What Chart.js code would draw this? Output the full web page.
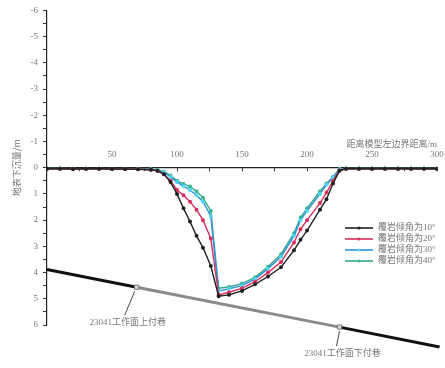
<!DOCTYPE html>
<html lang="zh">
<head>
<meta charset="UTF-8">
<title>覆岩倾角下沉曲线</title>
<script src="https://cdn.jsdelivr.net/npm/chart.js"></script>
<style>
  html, body { margin: 0; padding: 0; background: #fff; }
  #wrap { width: 445px; height: 368px; }
</style>
</head>
<body>
<div id="wrap"><canvas id="chart"></canvas></div>
<script>
// distance from the model's left edge (m)
const distances = [0, 10, 20, 30, 40, 50, 60, 70, 80, 85, 90, 95, 100, 105, 110, 115, 120, 126, 132,
  140, 150, 160, 170, 180, 190, 195, 200, 210, 215, 220, 225, 230, 240, 250, 260, 270, 280, 290, 300];

// subsidence (m) for each overburden dip angle
const dip10 = [0.04, 0.04, 0.05, 0.04, 0.04, 0.05, 0.05, 0.06, 0.08, 0.12, 0.25, 0.55, 1.0, 1.55, 2.05, 2.6, 3.05, 3.75, 4.9,
  4.85, 4.7, 4.45, 4.15, 3.8, 3.15, 2.75, 2.4, 1.6, 1.2, 0.6, 0.12, 0.04, 0.04, 0.04, 0.04, 0.04, 0.04, 0.04, 0.04];
const dip20 = [0.04, 0.04, 0.05, 0.04, 0.04, 0.05, 0.05, 0.06, 0.08, 0.12, 0.25, 0.5, 0.85, 1.05, 1.3, 1.6, 2.0, 2.7, 4.85,
  4.75, 4.6, 4.35, 4.0, 3.6, 2.85, 2.35, 2.0, 1.35, 0.95, 0.5, 0.1, 0.04, 0.04, 0.04, 0.04, 0.04, 0.04, 0.04, 0.04];
const dip30 = [0.04, 0.04, 0.04, 0.04, 0.04, 0.05, 0.05, 0.05, 0.07, 0.1, 0.18, 0.35, 0.55, 0.7, 0.85, 1.05, 1.3, 1.85, 4.7,
  4.62, 4.5, 4.25, 3.85, 3.4, 2.6, 2.0, 1.65, 1.0, 0.65, 0.38, 0.06, 0.04, 0.04, 0.04, 0.04, 0.04, 0.04, 0.04, 0.04];
const dip40 = [0.03, 0.03, 0.04, 0.04, 0.04, 0.04, 0.05, 0.05, 0.06, 0.08, 0.15, 0.3, 0.5, 0.62, 0.72, 0.9, 1.15, 1.65, 4.6,
  4.55, 4.42, 4.18, 3.78, 3.3, 2.5, 1.9, 1.55, 0.9, 0.6, 0.35, 0.05, 0.03, 0.03, 0.03, 0.03, 0.03, 0.03, 0.03, 0.03];

const seriesNames = ['覆岩倾角为10°', '覆岩倾角为20°', '覆岩倾角为30°', '覆岩倾角为40°'];

// coal seam line with the two roadways
const seamX = [0, 69, 225, 302];
const seamY = [3.88, 4.56, 6.08, 6.84];
const roadwayNames = ['23041工作面上付巷', '23041工作面下付巷'];

const xTitle = '距离模型左边界距离/m';
const yTitle = '地表下沉量/m';

const colors = ['#222222', '#d8305e', '#2f8fd8', '#33a888'];
const pointColors = ['#222222', '#d8305e', '#50d8f0', '#3cb894'];

const toPoints = (xs, ys) => xs.map((x, i) => ({ x: x, y: ys[i] }));

const curveSets = [dip10, dip20, dip30, dip40].map((arr, i) => ({
  label: seriesNames[i],
  data: toPoints(distances, arr),
  borderColor: colors[i],
  backgroundColor: pointColors[i],
  pointBorderColor: pointColors[i],
  borderWidth: 1.4,
  pointRadius: 1.3,
  pointHoverRadius: 1.3,
  tension: 0
}));

const seamSet = {
  label: 'seam',
  data: toPoints(seamX, seamY),
  borderWidth: 3,
  borderColor: '#111',
  segment: {
    borderColor: ctx => ctx.p0DataIndex === 1 ? '#8a8a8a' : '#111'
  },
  pointStyle: 'rect',
  pointRadius: ctx => (ctx.dataIndex === 1 || ctx.dataIndex === 2) ? 3 : 0,
  pointBackgroundColor: '#d8d8d8',
  pointBorderColor: '#777',
  pointBorderWidth: 1,
  clip: false,
  tension: 0
};

const labelFont = '9px "Liberation Serif", "Noto Sans CJK SC", serif';

// axis title, roadway notes and legend
const notesPlugin = {
  id: 'notes',
  afterDatasetsDraw(chart) {
    const { ctx, chartArea, scales } = chart;
    const xs = scales.x, ys = scales.y;
    ctx.save();
    ctx.font = labelFont;
    ctx.fillStyle = '#777';
    ctx.textBaseline = 'middle';

    // x axis title, above the axis at right
    ctx.textAlign = 'right';
    ctx.fillText(xTitle, chartArea.right, ys.getPixelForValue(0) - 23);

    // roadway labels with leader lines
    const offsets = [
      { lx1: -2, ly1: 4, lx2: -12, ly2: 28, tx: -9, ty: 35 },
      { lx1: 0, ly1: 4, lx2: -3, ly2: 19, tx: 3, ty: 27 }
    ];
    [1, 2].forEach((idx, k) => {
      const px = xs.getPixelForValue(seamX[idx]);
      const py = ys.getPixelForValue(seamY[idx]);
      const o = offsets[k];
      ctx.strokeStyle = '#444';
      ctx.lineWidth = 1;
      ctx.beginPath();
      ctx.moveTo(px + o.lx1, py + o.ly1);
      ctx.lineTo(px + o.lx2, py + o.ly2);
      ctx.stroke();
      ctx.fillStyle = '#777';
      ctx.textAlign = 'center';
      ctx.fillText(roadwayNames[k], px + o.tx, py + o.ty);
    });

    // legend
    const lx = chartArea.right - 92;
    const ly = ys.getPixelForValue(2.3);
    curveSets.forEach((ds, i) => {
      const y = ly + i * 11;
      ctx.strokeStyle = ds.borderColor;
      ctx.lineWidth = 1.6;
      ctx.beginPath();
      ctx.moveTo(lx, y);
      ctx.lineTo(lx + 28, y);
      ctx.stroke();
      ctx.fillStyle = ds.backgroundColor;
      ctx.beginPath();
      ctx.arc(lx + 14, y, 1.6, 0, Math.PI * 2);
      ctx.fill();
      ctx.fillStyle = '#777';
      ctx.textAlign = 'left';
      ctx.fillText(ds.label, lx + 33, y);
    });
    ctx.restore();
  }
};

new Chart(document.getElementById('chart'), {
  type: 'line',
  data: { datasets: [seamSet].concat(curveSets) },
  options: {
    responsive: true,
    maintainAspectRatio: false,
    animation: false,
    layout: { padding: { left: 0, right: 8, top: 10, bottom: 43 } },
    plugins: {
      legend: { display: false },
      tooltip: { enabled: false }
    },
    scales: {
      x: {
        type: 'linear',
        position: { y: 0 },
        min: 0,
        max: 300,
        grid: { drawOnChartArea: false, drawTicks: true, tickLength: 3, color: '#333' },
        border: { display: true, color: '#222', width: 1.2 },
        ticks: {
          stepSize: 25,
          padding: -21,
          autoSkip: false,
          maxRotation: 0,
          color: '#777',
          font: { family: '"Liberation Serif", serif', size: 9 },
          callback: v => (v % 50 === 0 && v !== 0) ? String(v) : ''
        }
      },
      y: {
        type: 'linear',
        position: 'left',
        reverse: true,
        min: -6,
        max: 6,
        afterFit: s => { s.width = 47; },
        grid: { drawOnChartArea: false, drawTicks: true, tickLength: 4, color: '#333' },
        border: { display: true, color: '#222', width: 1.2 },
        ticks: {
          stepSize: 0.5,
          autoSkip: false,
          padding: 5,
          color: '#777',
          font: { family: '"Liberation Serif", serif', size: 9 },
          callback: v => Number.isInteger(v) ? String(v) : ''
        },
        title: {
          display: true,
          text: yTitle,
          color: '#777',
          font: { family: '"Noto Sans CJK SC", sans-serif', size: 9 },
          padding: { top: 11, bottom: 0 }
        }
      }
    }
  },
  plugins: [notesPlugin]
});
</script>
</body>
</html>
